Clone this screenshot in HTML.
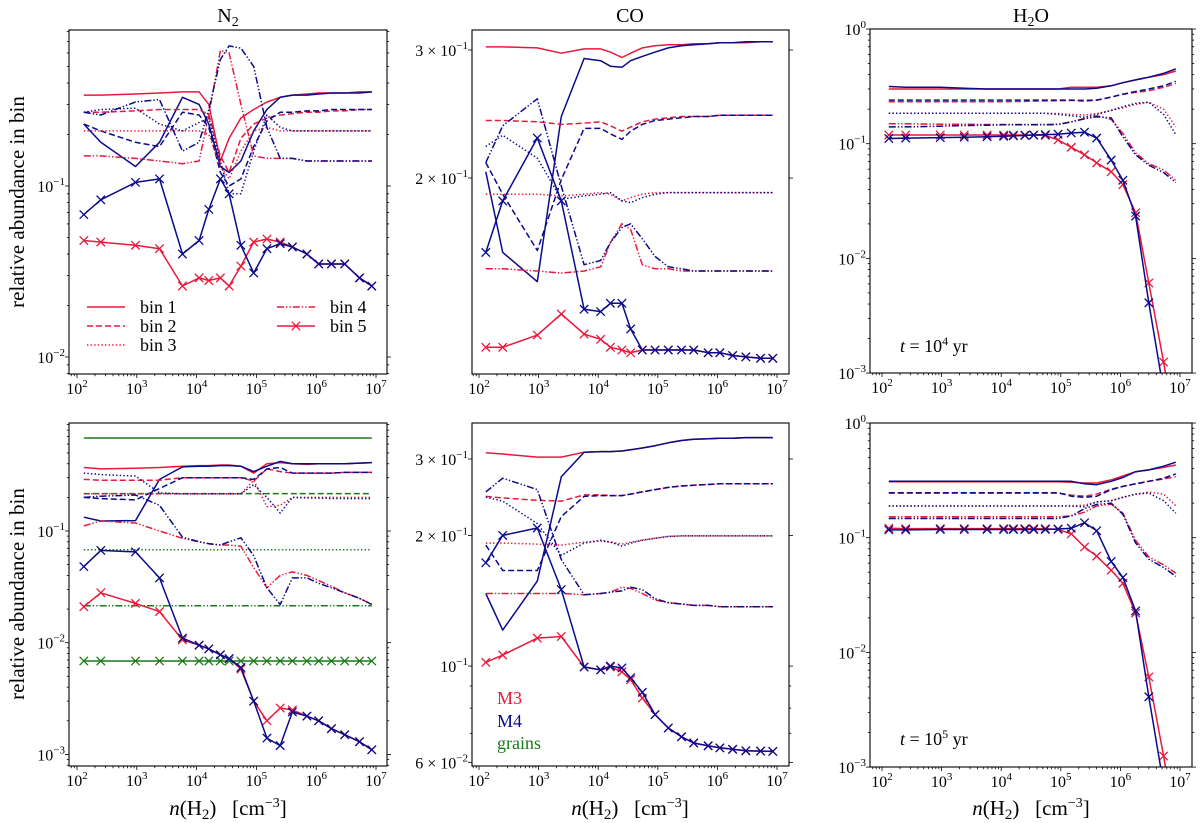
<!DOCTYPE html>
<html><head><meta charset="utf-8"><style>
html,body{margin:0;padding:0;background:#fff;}
svg{display:block;font-family:"Liberation Serif","DejaVu Serif",serif;}
</style></head><body>
<svg id="fig" xmlns="http://www.w3.org/2000/svg" width="1200" height="823" viewBox="0 0 1200 823">
<rect x="0" y="0" width="1200" height="823" fill="#fff"/>
<text x="228" y="22" font-size="20" text-anchor="middle">N<tspan font-size="14" dy="4">2</tspan></text>
<text x="630" y="22" font-size="20" text-anchor="middle">CO</text>
<text x="1031" y="22" font-size="20" text-anchor="middle">H<tspan font-size="14" dy="4">2</tspan><tspan dy="-4">O</tspan></text>
<text transform="translate(24,202) rotate(-90)" font-size="21" text-anchor="middle">relative abundance in bin</text>
<text transform="translate(24,594) rotate(-90)" font-size="21" text-anchor="middle">relative abundance in bin</text>
<text x="228" y="815" font-size="21" text-anchor="middle" xml:space="preserve"><tspan font-style="italic">n</tspan>(H<tspan font-size="15" dy="4">2</tspan><tspan dy="-4">)   [cm</tspan><tspan font-size="14" dy="-8">−3</tspan><tspan dy="8">]</tspan></text>
<text x="630" y="815" font-size="21" text-anchor="middle" xml:space="preserve"><tspan font-style="italic">n</tspan>(H<tspan font-size="15" dy="4">2</tspan><tspan dy="-4">)   [cm</tspan><tspan font-size="14" dy="-8">−3</tspan><tspan dy="8">]</tspan></text>
<text x="1031" y="815" font-size="21" text-anchor="middle" xml:space="preserve"><tspan font-style="italic">n</tspan>(H<tspan font-size="15" dy="4">2</tspan><tspan dy="-4">)   [cm</tspan><tspan font-size="14" dy="-8">−3</tspan><tspan dy="8">]</tspan></text>
<text x="900" y="352" font-size="18"><tspan font-style="italic">t</tspan> = 10<tspan font-size="12" dy="-7">4</tspan><tspan dy="7"> yr</tspan></text>
<text x="900" y="745" font-size="18"><tspan font-style="italic">t</tspan> = 10<tspan font-size="12" dy="-7">5</tspan><tspan dy="7"> yr</tspan></text>
<text x="497" y="704" font-size="18" fill="#e8193c">M3</text>
<text x="497" y="727" font-size="18" fill="#0a0a8c">M4</text>
<text x="497" y="749" font-size="18" fill="#1a7a1a">grains</text>
<g id="legend"></g>
</svg>
<script>
const nGrid = [130,250,950,2400,5800,11000,16000,25000,35000,55000,90000,150000,250000,400000,700000,1100000,1800000,3000000,5300000,8500000];

const tl_m3_b1 = [0.34,0.34,0.345,0.35,0.355,0.355,0.30,0.14,0.19,0.25,0.28,0.31,0.33,0.34,0.345,0.35,0.35,0.35,0.355,0.355];
const tl_m4_b1 = [0.23,0.18,0.13,0.18,0.33,0.30,0.23,0.13,0.12,0.14,0.21,0.28,0.33,0.34,0.34,0.345,0.35,0.35,0.35,0.355];
const tl_m3_b2 = [0.27,0.27,0.275,0.28,0.28,0.28,0.26,0.15,0.12,0.19,0.23,0.25,0.26,0.265,0.27,0.27,0.275,0.275,0.28,0.28];
const tl_m4_b2 = [0.23,0.21,0.18,0.17,0.27,0.26,0.22,0.12,0.10,0.11,0.17,0.24,0.27,0.27,0.275,0.275,0.28,0.28,0.28,0.28];
const tl_m3_b3 = [0.21,0.21,0.21,0.21,0.21,0.21,0.20,0.13,0.11,0.16,0.21,0.22,0.21,0.21,0.21,0.21,0.21,0.21,0.21,0.21];
const tl_m4_b3 = [0.27,0.28,0.285,0.23,0.21,0.235,0.25,0.14,0.09,0.09,0.16,0.26,0.22,0.21,0.21,0.21,0.21,0.21,0.21,0.21];
const tl_m3_b4 = [0.15,0.15,0.145,0.14,0.135,0.14,0.26,0.62,0.60,0.30,0.15,0.145,0.145,0.145,0.14,0.14,0.14,0.14,0.14,0.14];
const tl_m4_b4 = [0.27,0.26,0.31,0.32,0.16,0.18,0.28,0.55,0.66,0.64,0.50,0.22,0.145,0.145,0.14,0.14,0.14,0.14,0.14,0.14];
const tl_m3_b5 = [0.048,0.047,0.045,0.043,0.026,0.029,0.028,0.029,0.026,0.034,0.047,0.049,0.047,0.044,0.040,0.035,0.035,0.035,0.029,0.026];
const tl_m4_b5 = [0.068,0.083,0.105,0.11,0.04,0.048,0.073,0.11,0.09,0.045,0.031,0.043,0.046,0.044,0.040,0.035,0.035,0.035,0.029,0.026];

const tm_m3_b1 = [0.303,0.303,0.302,0.297,0.301,0.301,0.298,0.293,0.297,0.302,0.304,0.305,0.305,0.306,0.306,0.307,0.307,0.307,0.308,0.308];
const tm_m4_b1 = [0.204,0.158,0.144,0.243,0.292,0.29,0.285,0.284,0.29,0.294,0.298,0.302,0.304,0.305,0.306,0.307,0.307,0.308,0.308,0.308];
const tm_m3_b2 = [0.240,0.240,0.239,0.237,0.238,0.239,0.236,0.232,0.235,0.239,0.241,0.242,0.243,0.243,0.243,0.244,0.244,0.244,0.244,0.244];
const tm_m4_b2 = [0.21,0.19,0.159,0.199,0.234,0.234,0.23,0.226,0.232,0.237,0.240,0.241,0.242,0.243,0.243,0.244,0.244,0.244,0.244,0.244];
const tm_m3_b3 = [0.190,0.190,0.190,0.189,0.190,0.191,0.190,0.186,0.188,0.190,0.191,0.191,0.191,0.191,0.191,0.191,0.191,0.191,0.191,0.191];
const tm_m4_b3 = [0.221,0.229,0.213,0.187,0.189,0.190,0.191,0.186,0.185,0.188,0.190,0.191,0.191,0.191,0.191,0.191,0.191,0.191,0.191,0.191];
const tm_m3_b4 = [0.150,0.150,0.149,0.148,0.149,0.151,0.163,0.173,0.170,0.152,0.150,0.150,0.149,0.149,0.149,0.149,0.149,0.149,0.149,0.149];
const tm_m4_b4 = [0.21,0.236,0.257,0.195,0.152,0.154,0.163,0.171,0.173,0.165,0.156,0.151,0.150,0.149,0.149,0.149,0.149,0.149,0.149,0.149];
const tm_m3_b5 = [0.117,0.117,0.1216,0.130,0.122,0.120,0.117,0.116,0.115,0.116,0.116,0.116,0.116,0.116,0.115,0.115,0.114,0.1135,0.113,0.113];
const tm_m4_b5 = [0.158,0.186,0.227,0.186,0.132,0.131,0.1345,0.1345,0.124,0.116,0.116,0.116,0.116,0.116,0.115,0.115,0.114,0.1135,0.113,0.113];

const tr_m3_b1 = [0.30,0.30,0.30,0.30,0.30,0.30,0.30,0.30,0.30,0.30,0.30,0.31,0.31,0.31,0.32,0.34,0.36,0.38,0.40,0.43];
const tr_m4_b1 = [0.315,0.31,0.31,0.305,0.30,0.30,0.30,0.30,0.30,0.30,0.30,0.30,0.30,0.305,0.32,0.34,0.36,0.38,0.41,0.45];
const tr_m3_b2 = [0.232,0.232,0.232,0.232,0.232,0.232,0.233,0.234,0.235,0.236,0.237,0.238,0.24,0.24,0.255,0.27,0.28,0.29,0.31,0.335];
const tr_m4_b2 = [0.24,0.24,0.24,0.24,0.24,0.24,0.24,0.24,0.24,0.24,0.24,0.24,0.235,0.24,0.255,0.27,0.285,0.30,0.32,0.35];
const tr_m3_b3 = [0.184,0.184,0.184,0.184,0.184,0.184,0.184,0.184,0.184,0.184,0.183,0.18,0.178,0.183,0.195,0.205,0.22,0.23,0.20,0.14];
const tr_m4_b3 = [0.184,0.184,0.184,0.184,0.184,0.184,0.184,0.184,0.184,0.184,0.18,0.175,0.17,0.18,0.195,0.21,0.225,0.23,0.18,0.12];
const tr_m3_b4 = [0.149,0.149,0.148,0.148,0.147,0.147,0.147,0.147,0.147,0.147,0.148,0.155,0.166,0.175,0.163,0.123,0.083,0.067,0.059,0.048];
const tr_m4_b4 = [0.14,0.14,0.142,0.144,0.145,0.146,0.146,0.146,0.146,0.146,0.147,0.155,0.165,0.172,0.168,0.115,0.08,0.065,0.056,0.046];
const tr_m3_b5 = [0.119,0.119,0.119,0.119,0.119,0.119,0.119,0.119,0.119,0.118,0.108,0.093,0.08,0.068,0.057,0.044,0.025,0.0061,0.00125,0.0003];
const tr_m4_b5 = [0.111,0.112,0.113,0.114,0.115,0.116,0.117,0.118,0.119,0.12,0.121,0.124,0.126,0.112,0.072,0.048,0.0234,0.0041,0.0007,0.0002];

const bl_m3_b1 = [0.37,0.36,0.365,0.37,0.38,0.385,0.385,0.39,0.39,0.38,0.33,0.40,0.41,0.40,0.395,0.40,0.40,0.40,0.405,0.41];
const bl_m4_b1 = [0.133,0.123,0.124,0.29,0.375,0.38,0.38,0.385,0.385,0.38,0.34,0.38,0.42,0.40,0.40,0.40,0.40,0.40,0.405,0.41];
const bl_m3_b2 = [0.29,0.285,0.285,0.285,0.30,0.30,0.30,0.30,0.30,0.30,0.28,0.36,0.34,0.33,0.33,0.33,0.33,0.335,0.335,0.335];
const bl_m4_b2 = [0.20,0.195,0.19,0.24,0.30,0.30,0.30,0.30,0.30,0.30,0.29,0.36,0.37,0.33,0.33,0.33,0.33,0.335,0.335,0.335];
const bl_m3_b3 = [0.215,0.215,0.215,0.215,0.215,0.215,0.215,0.215,0.215,0.215,0.285,0.165,0.17,0.20,0.20,0.20,0.20,0.20,0.20,0.20];
const bl_m4_b3 = [0.33,0.32,0.31,0.22,0.215,0.215,0.215,0.215,0.215,0.215,0.26,0.20,0.145,0.20,0.198,0.197,0.196,0.195,0.195,0.195];
const bl_m3_b4 = [0.111,0.123,0.118,0.10,0.086,0.08,0.077,0.075,0.075,0.073,0.047,0.031,0.040,0.043,0.040,0.036,0.032,0.028,0.025,0.022];
const bl_m4_b4 = [0.20,0.205,0.21,0.17,0.088,0.08,0.077,0.075,0.08,0.087,0.06,0.031,0.022,0.038,0.038,0.034,0.031,0.028,0.025,0.022];
const bl_m3_b5 = [0.021,0.028,0.0225,0.019,0.0106,0.0095,0.0088,0.0078,0.0072,0.0058,0.003,0.002,0.0026,0.0025,0.0022,0.002,0.0017,0.0015,0.0013,0.0011];
const bl_m4_b5 = [0.048,0.067,0.065,0.038,0.011,0.0095,0.0088,0.0078,0.0072,0.006,0.003,0.0014,0.0012,0.0024,0.0022,0.002,0.0017,0.0015,0.0013,0.0011];
const grainLevels = [0.68,0.216,0.068,0.0214,0.00686];

const bm_m3_b1 = [0.310,0.308,0.303,0.303,0.311,0.312,0.312,0.313,0.315,0.318,0.322,0.327,0.331,0.333,0.334,0.335,0.335,0.336,0.336,0.336];
const bm_m4_b1 = [0.147,0.121,0.157,0.273,0.311,0.312,0.312,0.313,0.315,0.318,0.322,0.327,0.331,0.333,0.334,0.335,0.335,0.336,0.336,0.336];
const bm_m3_b2 = [0.246,0.244,0.241,0.240,0.248,0.248,0.247,0.247,0.249,0.252,0.255,0.258,0.26,0.261,0.262,0.263,0.263,0.263,0.263,0.263];
const bm_m4_b2 = [0.19,0.166,0.166,0.221,0.246,0.247,0.247,0.247,0.249,0.252,0.255,0.258,0.26,0.261,0.262,0.263,0.263,0.263,0.263,0.263];
const bm_m3_b3 = [0.192,0.192,0.191,0.190,0.193,0.194,0.193,0.191,0.193,0.195,0.197,0.199,0.1995,0.1995,0.1995,0.1995,0.1995,0.1995,0.1995,0.1995];
const bm_m4_b3 = [0.245,0.24,0.213,0.18,0.192,0.195,0.193,0.189,0.192,0.195,0.197,0.199,0.1995,0.1995,0.1995,0.1995,0.1995,0.1995,0.1995,0.1995];
const bm_m3_b4 = [0.147,0.147,0.147,0.147,0.146,0.147,0.148,0.152,0.151,0.147,0.142,0.140,0.139,0.138,0.138,0.137,0.137,0.137,0.137,0.137];
const bm_m4_b4 = [0.252,0.271,0.255,0.176,0.146,0.147,0.148,0.149,0.152,0.150,0.143,0.140,0.139,0.138,0.138,0.137,0.137,0.137,0.137,0.137];
const bm_m3_b5 = [0.102,0.106,0.116,0.117,0.0995,0.098,0.0995,0.097,0.093,0.0844,0.0773,0.072,0.0687,0.0665,0.0655,0.0648,0.0643,0.0638,0.0637,0.0636];
const bm_m4_b5 = [0.173,0.2,0.208,0.150,0.0995,0.098,0.1,0.099,0.094,0.087,0.0773,0.072,0.0687,0.0665,0.0655,0.0648,0.0643,0.0638,0.0637,0.0636];

const br_m3_b1 = [0.308,0.308,0.308,0.308,0.308,0.308,0.308,0.308,0.308,0.308,0.308,0.305,0.30,0.30,0.32,0.345,0.376,0.39,0.41,0.43];
const br_m4_b1 = [0.31,0.31,0.31,0.31,0.31,0.31,0.31,0.31,0.31,0.31,0.31,0.31,0.295,0.29,0.31,0.335,0.376,0.39,0.42,0.455];
const br_m3_b2 = [0.245,0.245,0.245,0.245,0.245,0.245,0.245,0.245,0.245,0.245,0.245,0.235,0.23,0.24,0.265,0.28,0.295,0.31,0.325,0.34];
const br_m4_b2 = [0.247,0.247,0.247,0.247,0.247,0.247,0.247,0.247,0.247,0.247,0.247,0.23,0.225,0.23,0.262,0.28,0.295,0.31,0.33,0.36];
const br_m3_b3 = [0.189,0.189,0.189,0.189,0.189,0.189,0.189,0.189,0.189,0.189,0.189,0.189,0.192,0.205,0.21,0.225,0.24,0.25,0.24,0.19];
const br_m4_b3 = [0.189,0.189,0.189,0.189,0.189,0.189,0.189,0.189,0.189,0.189,0.189,0.189,0.186,0.205,0.21,0.225,0.24,0.245,0.21,0.164];
const br_m3_b4 = [0.152,0.152,0.152,0.152,0.152,0.152,0.152,0.152,0.152,0.152,0.152,0.155,0.167,0.189,0.196,0.164,0.095,0.068,0.058,0.049];
const br_m4_b4 = [0.147,0.147,0.147,0.147,0.147,0.147,0.147,0.147,0.147,0.147,0.147,0.155,0.179,0.195,0.2,0.16,0.09,0.065,0.055,0.046];
const br_m3_b5 = [0.121,0.12,0.12,0.12,0.12,0.12,0.12,0.12,0.12,0.12,0.118,0.108,0.083,0.069,0.052,0.040,0.022,0.0061,0.00125,0.0003];
const br_m4_b5 = [0.117,0.117,0.118,0.118,0.118,0.118,0.118,0.118,0.118,0.118,0.119,0.121,0.135,0.115,0.062,0.045,0.023,0.0041,0.0007,0.0002];

const xTickExps = [2,3,4,5,6,7];

const RED = "#e8193c", BLUE = "#0a0a8c", GREEN = "#1a7a1a";
const DASH = {b1: null, b2: "6,3", b3: "1.4,2.2", b4: "7,2,1.4,2,1.4,2", b5: null};
const NS = "http://www.w3.org/2000/svg";
const svg = document.getElementById("fig");

function mk(tag, attrs, parent) {
  const e = document.createElementNS(NS, tag);
  for (const k in attrs) e.setAttribute(k, attrs[k]);
  (parent || svg).appendChild(e);
  return e;
}
function lg(v) { return Math.log10(v); }

function makePanel(id, box, x2px, pxPerDec, yRef, yRefPx, yPxPerDec) {
  return {
    id: id, box: box,
    sx: function (n) { return x2px + (lg(n) - 2) * pxPerDec; },
    sy: function (v) { return yRefPx - (lg(v) - lg(yRef)) * yPxPerDec; }
  };
}

const panels = [
  makePanel("n2-top", [69, 30, 387, 374], 77, 59.8, 0.1, 186, 171),
  makePanel("co-top", [472, 30, 789, 374], 479, 59.6, 0.3, 50, 727),
  makePanel("h2o-top", [870, 29, 1192, 373], 882, 59.6, 1, 29, 114.7),
  makePanel("n2-bottom", [69, 423, 387, 766], 77, 59.8, 0.1, 531, 111.7),
  makePanel("co-bottom", [472, 423, 789, 766], 479, 59.6, 0.3, 459, 434),
  makePanel("h2o-bottom", [870, 423, 1192, 767], 882, 59.6, 1, 423, 114.7)
];

const seriesSets = [
  [tl_m3_b1, tl_m4_b1, tl_m3_b2, tl_m4_b2, tl_m3_b3, tl_m4_b3, tl_m3_b4, tl_m4_b4, tl_m3_b5, tl_m4_b5],
  [tm_m3_b1, tm_m4_b1, tm_m3_b2, tm_m4_b2, tm_m3_b3, tm_m4_b3, tm_m3_b4, tm_m4_b4, tm_m3_b5, tm_m4_b5],
  [tr_m3_b1, tr_m4_b1, tr_m3_b2, tr_m4_b2, tr_m3_b3, tr_m4_b3, tr_m3_b4, tr_m4_b4, tr_m3_b5, tr_m4_b5],
  [bl_m3_b1, bl_m4_b1, bl_m3_b2, bl_m4_b2, bl_m3_b3, bl_m4_b3, bl_m3_b4, bl_m4_b4, bl_m3_b5, bl_m4_b5],
  [bm_m3_b1, bm_m4_b1, bm_m3_b2, bm_m4_b2, bm_m3_b3, bm_m4_b3, bm_m3_b4, bm_m4_b4, bm_m3_b5, bm_m4_b5],
  [br_m3_b1, br_m4_b1, br_m3_b2, br_m4_b2, br_m3_b3, br_m4_b3, br_m3_b4, br_m4_b4, br_m3_b5, br_m4_b5]
];

function logTicks(p) {
  const out = [];
  for (let d = -4; d <= 0; d++) for (let m = 1; m <= 9; m++) {
    const v = m * Math.pow(10, d);
    const y = p.sy(v);
    if (y >= p.box[1] - 0.5 && y <= p.box[3] + 0.5) out.push({v: v, major: m === 1, m: m === 1 ? 1 : 0, e: d, label: m === 1});
  }
  return out;
}
const coTopTicks = [{v: 0.3, m: 3, e: -1}, {v: 0.2, m: 2, e: -1}];
const coBotTicks = [{v: 0.3, m: 3, e: -1}, {v: 0.2, m: 2, e: -1}, {v: 0.1, m: 1, e: -1}, {v: 0.06, m: 6, e: -2}, {v: 0.07}, {v: 0.08}, {v: 0.09}];

function drawMarker(g, x, y, col) {
  const s = 4.2;
  const a = mk("path", {d: "M" + (x - s) + " " + (y - s) + "L" + (x + s) + " " + (y + s) + "M" + (x - s) + " " + (y + s) + "L" + (x + s) + " " + (y - s), stroke: col, "stroke-width": 1.3, fill: "none"}, g);
  
  
}

function drawLine(p, g, xs, ys, col, binKey, name) {
  let d = "";
  for (let i = 0; i < xs.length; i++) d += (i ? "L" : "M") + p.sx(xs[i]).toFixed(1) + " " + p.sy(ys[i]).toFixed(1);
  const attrs = {d: d, stroke: col, "stroke-width": 1.5, fill: "none", "stroke-linejoin": "round"};
  if (DASH[binKey]) attrs["stroke-dasharray"] = DASH[binKey];
  const path = mk("path", attrs, g);
  
  
  if (binKey === "b5") for (let i = 0; i < xs.length; i++) drawMarker(g, p.sx(xs[i]), p.sy(ys[i]), col);
}

panels.forEach(function (p, pi) {
  const [x0, y0, x1, y1] = p.box;
  const g = mk("g", {});
  
  
  const cp = mk("clipPath", {id: "clip" + pi}, g);
  mk("rect", {x: x0, y: y0, width: x1 - x0, height: y1 - y0}, cp);
  const plot = mk("g", {"clip-path": "url(#clip" + pi + ")"}, g);
  
  

  if (pi === 3) {
    const gk = ["b1", "b2", "b3", "b4", "b5"];
    grainLevels.forEach(function (lv, k) {
      const ys = nGrid.map(function () { return lv; });
      drawLine(p, plot, nGrid, ys, GREEN, gk[k], "grains-bin" + (k + 1) + "-line");
    });
  }
  const ss = seriesSets[pi];
  const keys = ["b1", "b2", "b3", "b4", "b5"];
  for (let k = 0; k < 5; k++) {
    drawLine(p, plot, nGrid, ss[2 * k], RED, keys[k], "m3-bin" + (k + 1) + "-line");
    drawLine(p, plot, nGrid, ss[2 * k + 1], BLUE, keys[k], "m4-bin" + (k + 1) + "-line");
  }

  const fr = mk("rect", {x: x0, y: y0, width: x1 - x0, height: y1 - y0, fill: "none", stroke: "#000", "stroke-width": 1.1}, g);
  
  

  const xt = mk("g", {stroke: "#000", "stroke-width": 0.8}, g);
  
  
  for (let e = 1; e <= 7; e++) for (let m = 1; m <= 9; m++) {
    const x = p.sx(m * Math.pow(10, e));
    if (x < x0 || x > x1) continue;
    const L = m === 1 ? 4 : 2.2;
    mk("line", {x1: x, x2: x, y1: y1, y2: y1 + L}, xt);
  }
  xTickExps.forEach(function (e) {
    const x = p.sx(Math.pow(10, e));
    const t = mk("text", {x: x, y: y1 + 20, "font-size": 16, "text-anchor": "middle"}, g);
    
    
    t.textContent = "10";
    const s = mk("tspan", {"font-size": 11, dy: -7}, t);
    s.textContent = String(e);
  });

  let ticks;
  if (pi === 1) ticks = coTopTicks; else if (pi === 4) ticks = coBotTicks; else ticks = logTicks(p);
  const yt = mk("g", {stroke: "#000", "stroke-width": 0.8}, g);
  
  
  ticks.forEach(function (tk) {
    const y = p.sy(tk.v);
    const L = (tk.major || tk.m) ? 4 : 2.2;
    mk("line", {x1: x0 - L, x2: x0, y1: y, y2: y}, yt);
    mk("line", {x1: x1, x2: x1 + L, y1: y, y2: y}, yt);
    if (tk.m && (tk.label === undefined || tk.label)) {
      const t = mk("text", {x: x0 - 4, y: y + 6, "font-size": 16, "text-anchor": "end"}, g);
      
      
      t.textContent = (tk.m !== 1 ? tk.m + " × " : "") + "10";
      const s = mk("tspan", {"font-size": 11, dy: -7}, t);
      s.textContent = tk.e === 0 ? "0" : "−" + (-tk.e);
    }
  });
});

const leg = document.getElementById("legend");
const legendEntries = [["bin 1", "b1", 87, 307], ["bin 2", "b2", 87, 326], ["bin 3", "b3", 87, 345], ["bin 4", "b4", 277, 307], ["bin 5", "b5", 277, 326]];
legendEntries.forEach(function (en) {
  const g = mk("g", {}, leg);
  
  
  const a = {x1: en[2], x2: en[2] + 38, y1: en[3], y2: en[3], stroke: RED, "stroke-width": 1.5};
  if (DASH[en[1]]) a["stroke-dasharray"] = DASH[en[1]];
  mk("line", a, g);
  if (en[1] === "b5") drawMarker(g, en[2] + 19, en[3], RED);
  const t = mk("text", {x: en[2] + 53, y: en[3] + 6, "font-size": 18}, g);
  t.textContent = en[0];
});
</script>
</body></html>
